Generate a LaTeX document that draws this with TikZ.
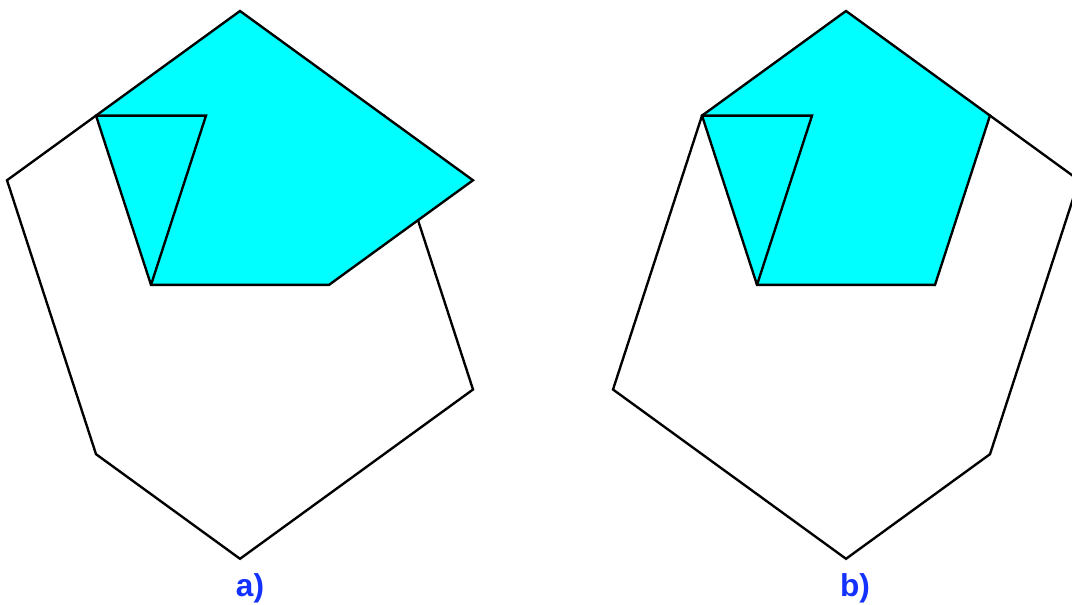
\documentclass[tikz,border=0pt]{standalone}
\usepackage{fontspec}
\setmainfont{Liberation Sans}
\usetikzlibrary{calc}
\definecolor{tilecyan}{RGB}{0,255,255}
\definecolor{labelblue}{RGB}{20,50,255}

\tikzset{
  edge/.style={line width=1.35pt, line join=miter},
  tile/.style={edge, fill=tilecyan},
  hull/.style={edge, fill=white},
  panel/.style={text=labelblue, inner sep=0pt, font=\fontsize{18}{20}\selectfont\bfseries}
}

\begin{document}
\begin{tikzpicture}[x=0.02cm, y=0.02cm]

    \useasboundingbox (0,0) rectangle (1072,605);
    \clip (0,0) rectangle (1072,605);

    \def\s{178}  % pentagon side
    \def\L{288}  % long side
    \def\S{110}  % short side
    \def\R{151.4}

    % panel a
    \coordinate (Ca) at (240,442.6);
    \coordinate (A1) at ($(Ca)+(90:\R)$);
    \coordinate (A2) at ($(Ca)+(18:\R)$);
    \coordinate (A3) at ($(Ca)+(-54:\R)$);
    \coordinate (A4) at ($(Ca)+(-126:\R)$);
    \coordinate (A5) at ($(Ca)+(162:\R)$);

    % panel b
    \coordinate (Cb) at (846,442.6);
    \coordinate (B1) at ($(Cb)+(90:\R)$);
    \coordinate (B2) at ($(Cb)+(18:\R)$);
    \coordinate (B3) at ($(Cb)+(-54:\R)$);
    \coordinate (B4) at ($(Cb)+(-126:\R)$);
    \coordinate (B5) at ($(Cb)+(162:\R)$);

    % a)
    \draw[hull] (A5) -- ++(216:\S) -- ++(288:\L) -- ++(324:\s)
        -- ++(36:\L) -- ++(108:\L) -- cycle;
    \draw[tile] (A5) -- (A1) -- ++(-36:\L) coordinate (Ea) -- (A3) -- (A4) -- cycle;
    \draw[edge] (A5) -- ++(0:\S) coordinate (Ta) -- (A4);

    % b)
    \draw[hull] (B5) -- ++(252:\L) -- ++(324:\L) -- ++(36:\s)
        -- ++(72:\L) -- ++(144:\S) -- cycle;
    \draw[tile] (B1) -- (B2) -- (B3) -- (B4) -- (B5) -- cycle;
    \draw[edge] (B5) -- ++(0:\S) coordinate (Tb) -- (B4);

    \node[panel] (labA) at (250,17) {a)};
    \node[panel] (labB) at (855,17) {b)};

\end{tikzpicture}
\end{document}
